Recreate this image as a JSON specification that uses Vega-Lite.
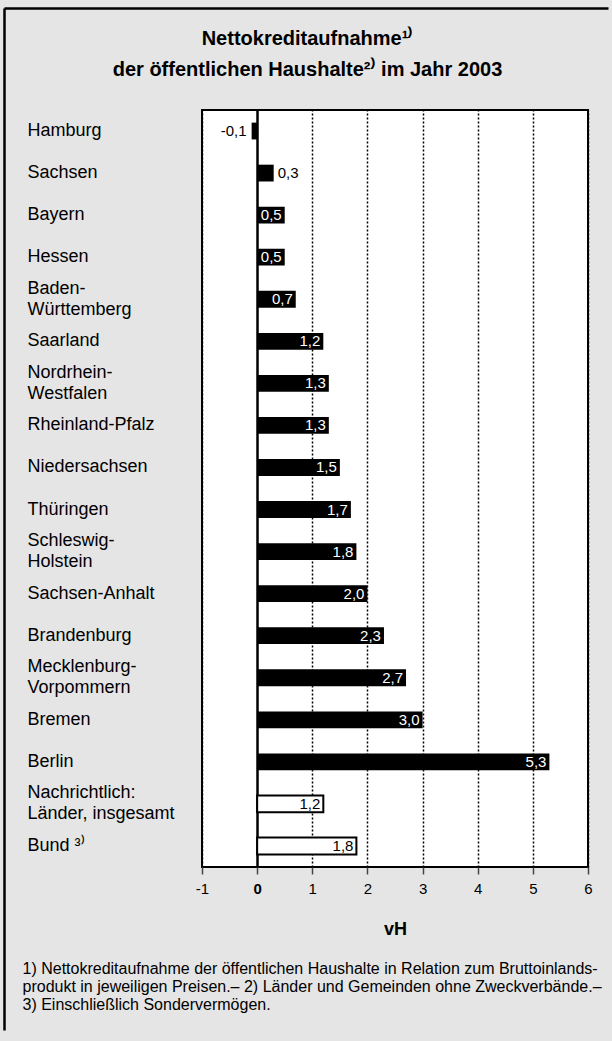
{
  "$schema": "https://vega.github.io/schema/vega-lite/v6.json",
  "background": "#e5e5e5",
  "padding": {"left": 4, "top": 8, "right": 0, "bottom": 0},
  "width": 386,
  "height": 757,
  "view": {"fill": "white", "stroke": "black", "strokeWidth": 2},
  "config": {
    "font": "Liberation Sans",
    "locale": {"number": {"decimal": ",", "thousands": ".", "grouping": [3], "currency": ["", " €"], "minus": "-"}}
  },
  "datasets": {
    "laender": [
      {"land": "Hamburg", "v": -0.1, "typ": "Land"},
      {"land": "Sachsen", "v": 0.3, "typ": "Land"},
      {"land": "Bayern", "v": 0.5, "typ": "Land"},
      {"land": "Hessen", "v": 0.5, "typ": "Land"},
      {"land": "Baden-\nWürttemberg", "v": 0.7, "typ": "Land"},
      {"land": "Saarland", "v": 1.2, "typ": "Land"},
      {"land": "Nordrhein-\nWestfalen", "v": 1.3, "typ": "Land"},
      {"land": "Rheinland-Pfalz", "v": 1.3, "typ": "Land"},
      {"land": "Niedersachsen", "v": 1.5, "typ": "Land"},
      {"land": "Thüringen", "v": 1.7, "typ": "Land"},
      {"land": "Schleswig-\nHolstein", "v": 1.8, "typ": "Land"},
      {"land": "Sachsen-Anhalt", "v": 2.0, "typ": "Land"},
      {"land": "Brandenburg", "v": 2.3, "typ": "Land"},
      {"land": "Mecklenburg-\nVorpommern", "v": 2.7, "typ": "Land"},
      {"land": "Bremen", "v": 3.0, "typ": "Land"},
      {"land": "Berlin", "v": 5.3, "typ": "Land"},
      {"land": "Nachrichtlich:\nLänder, insgesamt", "v": 1.2, "typ": "Summe"},
      {"land": "Bund ³⁾", "v": 1.8, "typ": "Summe"}
    ],
    "leer": []
  },
  "resolve": {
    "scale": {"x": "independent", "y": "independent"},
    "axis": {"x": "independent", "y": "independent"}
  },
  "layer": [
    {
      "data": {"name": "laender"},
      "encoding": {
        "y": {
          "field": "land",
          "type": "nominal",
          "sort": null,
          "scale": {"paddingInner": 0.6, "paddingOuter": 0.3},
          "axis": {
            "title": null,
            "orient": "left",
            "labelAlign": "left",
            "labelBaseline": "middle",
            "labelPadding": 175,
            "ticks": false,
            "tickSize": 0,
            "domain": false,
            "grid": false,
            "labelFontSize": 18,
            "labelColor": "black",
            "labelLineHeight": 21,
            "labelLimit": 0,
            "labelOffset": {"condition": {"test": "indexof(datum.label, '\\n') >= 0", "value": -10.5}, "value": 0},
            "labelExpr": "split(datum.label, '\\n')"
          }
        },
        "x": {
          "field": "v",
          "type": "quantitative",
          "scale": {"domain": [-1, 6], "nice": false, "zero": false},
          "axis": {
            "orient": "bottom",
            "title": "vH",
            "titleFontSize": 18,
            "titleFontWeight": "bold",
            "titleColor": "black",
            "titlePadding": 24,
            "values": [-1, 0, 1, 2, 3, 4, 5, 6],
            "format": "d",
            "domain": false,
            "tickSize": 7,
            "tickColor": "#444",
            "tickWidth": 1.5,
            "labelFontSize": 15,
            "labelColor": "black",
            "labelPadding": 7,
            "labelFlush": false,
            "labelFontWeight": {"condition": {"test": "datum.value === 0", "value": "bold"}, "value": "normal"},
            "grid": true,
            "gridColor": "black",
            "gridOpacity": 1,
            "gridDash": {"condition": {"test": "datum.value === 0", "value": []}, "value": [2, 2]},
            "gridWidth": {"condition": {"test": "datum.value === 0", "value": 2.5}, "value": 1.5}
          }
        }
      },
      "layer": [
        {
          "transform": [{"filter": "datum.typ == 'Land'"}],
          "mark": {"type": "bar", "color": "black"},
          "encoding": {"x2": {"datum": 0}}
        },
        {
          "transform": [{"filter": "datum.typ != 'Land'"}],
          "mark": {"type": "bar", "fill": "white", "stroke": "black", "strokeWidth": 2},
          "encoding": {"x2": {"datum": 0}}
        },
        {
          "transform": [{"filter": "datum.v >= 0.5"}],
          "mark": {"type": "text", "align": "right", "baseline": "middle", "dx": -3, "fontSize": 15},
          "encoding": {
            "text": {"field": "v", "type": "quantitative", "format": ".1f"},
            "color": {"condition": {"test": "datum.typ == 'Land'", "value": "white"}, "value": "black"}
          }
        },
        {
          "transform": [{"filter": "datum.v > 0 && datum.v < 0.5"}],
          "mark": {"type": "text", "align": "left", "baseline": "middle", "dx": 4, "fontSize": 15, "color": "black"},
          "encoding": {"text": {"field": "v", "type": "quantitative", "format": ".1f"}}
        },
        {
          "transform": [{"filter": "datum.v < 0"}],
          "mark": {"type": "text", "align": "right", "baseline": "middle", "dx": -5, "fontSize": 15, "color": "black"},
          "encoding": {"text": {"field": "v", "type": "quantitative", "format": ".1f"}}
        }
      ]
    },
    {
      "data": {"name": "leer"},
      "mark": "rule",
      "encoding": {
        "x": {
          "datum": 0,
          "type": "quantitative",
          "scale": {"domain": [0, 1], "range": [-198, 406]},
          "axis": {
            "orient": "top",
            "offset": 102,
            "domain": true,
            "domainColor": "black",
            "domainWidth": 2.5,
            "ticks": false,
            "labels": false,
            "grid": false,
            "title": ["Nettokreditaufnahme¹⁾", "der öffentlichen Haushalte²⁾ im Jahr 2003"],
            "titleX": 105,
            "titleY": 20,
            "titleAlign": "center",
            "titleBaseline": "top",
            "titleAngle": 0,
            "titleFontSize": 20,
            "titleFontWeight": "bold",
            "titleLineHeight": 31,
            "titleColor": "black",
            "titleLimit": 1000
          }
        },
        "y": {
          "datum": 0,
          "type": "quantitative",
          "scale": {"domain": [0, 1], "range": [-102, 920]},
          "axis": {
            "orient": "right",
            "offset": -584,
            "domain": true,
            "domainColor": "black",
            "domainWidth": 2.5,
            "ticks": false,
            "labels": false,
            "grid": false,
            "title": [
              "1) Nettokreditaufnahme der öffentlichen Haushalte in Relation zum Bruttoinlands-",
              "produkt in jeweiligen Preisen.– 2) Länder und Gemeinden ohne Zweckverbände.–",
              "3) Einschließlich Sondervermögen."
            ],
            "titleX": 18,
            "titleY": 850,
            "titleAngle": 0,
            "titleAlign": "left",
            "titleBaseline": "top",
            "titleFontSize": 16,
            "titleFontWeight": "normal",
            "titleLineHeight": 18,
            "titleColor": "black",
            "titleLimit": 1000
          }
        }
      }
    }
  ]
}
